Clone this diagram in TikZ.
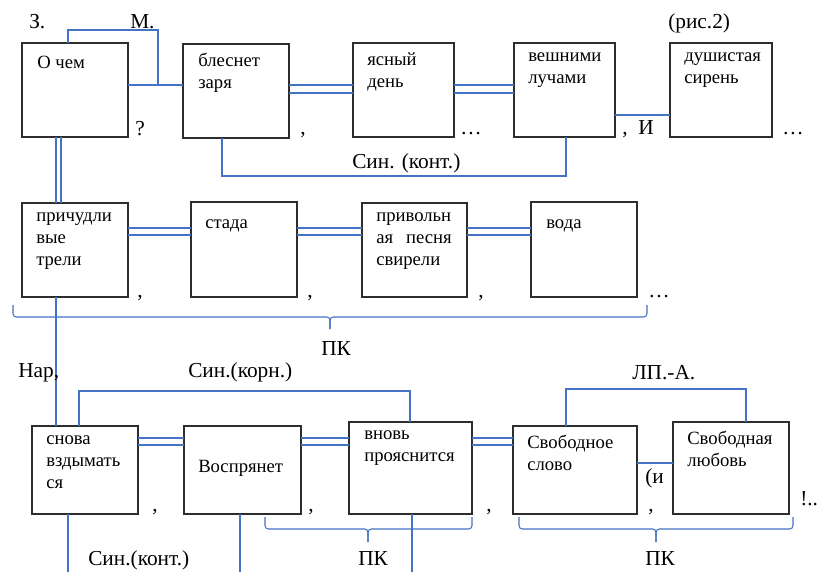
\documentclass[tikz,border=0pt]{standalone}
\usepackage{fontspec}
\setmainfont{Liberation Serif}
\usetikzlibrary{calc}
\definecolor{cblue}{RGB}{68,114,196}
\definecolor{cbox}{RGB}{45,45,45}
\tikzset{
  box/.style={draw=cbox, line width=0.9pt, anchor=north west, inner sep=0pt, outer sep=0pt},
  conn/.style={draw=cblue, line width=0.8pt},
  txt/.style={inner sep=0pt, anchor=north west, align=left,
    font=\fontsize{14}{16.5}\selectfont, execute at begin node=\strut},
  lab/.style={inner sep=0pt, anchor=base west, font=\fontsize{16}{18}\selectfont},
  brace/.style={draw=cblue, line width=0.8pt, rounded corners=2.5pt},
}
\newcommand\mkbox[5]{\node[box, minimum width={(#4-#2)*0.75pt}, minimum height={(#5-#3)*0.75pt}] (#1) at (#2,#3) {};}
\begin{document}
\begin{tikzpicture}[x=0.75pt,y=-0.75pt]
\useasboundingbox (0,0) rectangle (826,572);
% ---------- boxes ----------
\mkbox{ochem}{22}{43}{128}{137}
\mkbox{blesnet}{183}{44}{289}{138}
\mkbox{yasny}{353}{43}{454}{137}
\mkbox{veshn}{514}{43}{615}{137}
\mkbox{dush}{670}{43}{772}{137}
\mkbox{prich}{22}{203}{128}{297}
\mkbox{stada}{191}{202}{297}{297}
\mkbox{privol}{362}{203}{467}{297}
\mkbox{voda}{531}{202}{637}{297}
\mkbox{snova}{32}{426}{138}{514}
\mkbox{vospr}{184}{426}{301}{514}
\mkbox{vnov}{349}{422}{472}{514}
\mkbox{svoe}{513}{426}{637}{514}
\mkbox{svoa}{673}{422}{789}{514}
% ---------- box texts ----------
\node[txt] (ochem-t) at (37,52.6) {О чем};
\node[txt] (blesnet-t) at (198,52.6) {блеснет\\заря};
\node[txt] (yasny-t) at (367,52.6) {ясный\\день};
\node[txt] (veshn-t) at (528,52.6) {вешними\\лучами};
\node[txt] (dush-t) at (684,52.6) {душистая\\сирень};
\node[txt] (prich-t) at (36,212.6) {причудли\\вые\\трели};
\node[txt] (stada-t) at (205,212.6) {стада};
\node[txt] (privol-t) at (376,212.6) {привольн\\ая\hspace{0.7em}песня\\свирели};
\node[txt] (voda-t) at (546,212.6) {вода};
\node[txt] (snova-t) at (46,435.6) {снова\\вздымать\\ся};
\node[txt] (vospr-t) at (198,456.6) {Воспрянет};
\node[txt] (vnov-t) at (364,430.6) {вновь\\прояснится};
\node[txt] (svoe-t) at (527,434.6) {Свободное\\слово};
\node[txt] (svoa-t) at (687,430.6) {Свободная\\любовь};
% ---------- helper levels ----------
\coordinate (h1) at (0,85);
\coordinate (h2) at (0,93);
\coordinate (h3) at (0,115);
\coordinate (h4) at (0,228);
\coordinate (h5) at (0,235);
\coordinate (h6) at (0,438);
\coordinate (h7) at (0,445);
\coordinate (h8) at (0,463);
\coordinate (m1) at (158,85);
% ---------- row 1 connectors ----------
\draw[conn] (ochem.east |- h1) -- (blesnet.west |- h1);
\draw[conn] ($(ochem.north west)+(46,0)$) -- ++(0,-13) -| (m1);
\draw[conn] (blesnet.east |- h1) -- (yasny.west |- h1);
\draw[conn] (blesnet.east |- h2) -- (yasny.west |- h2);
\draw[conn] (yasny.east |- h1) -- (veshn.west |- h1);
\draw[conn] (yasny.east |- h2) -- (veshn.west |- h2);
\draw[conn] (veshn.east |- h3) -- (dush.west |- h3);
\draw[conn] ($(blesnet.south west)+(39,0)$) -- ++(0,38) -| ($(veshn.south west)+(52,0)$);
\draw[conn] ($(ochem.south west)+(34,0)$) -- ($(prich.north west)+(34,0)$);
\draw[conn] ($(ochem.south west)+(39,0)$) -- ($(prich.north west)+(39,0)$);
% ---------- row 2 connectors ----------
\draw[conn] (prich.east |- h4) -- (stada.west |- h4);
\draw[conn] (prich.east |- h5) -- (stada.west |- h5);
\draw[conn] (stada.east |- h4) -- (privol.west |- h4);
\draw[conn] (stada.east |- h5) -- (privol.west |- h5);
\draw[conn] (privol.east |- h4) -- (voda.west |- h4);
\draw[conn] (privol.east |- h5) -- (voda.west |- h5);
\coordinate (b1l) at (13,305);
\coordinate (b1m) at (330,329);
\coordinate (b1r) at (647,305);
\draw[brace] (b1l) |- ($(b1m)+(0,-12)$) -- (b1m);
\draw[brace] (b1m) -- ($(b1m)+(0,-12)$) -| (b1r);
\draw[conn] ($(prich.south west)+(34,0)$) -- ($(snova.north west)+(24,0)$);
% ---------- row 3 connectors ----------
\draw[conn] ($(snova.north west)+(47,0)$) -- ++(0,-35) -| ($(vnov.north west)+(61,0)$);
\draw[conn] (snova.east |- h6) -- (vospr.west |- h6);
\draw[conn] (snova.east |- h7) -- (vospr.west |- h7);
\draw[conn] (vospr.east |- h6) -- (vnov.west |- h6);
\draw[conn] (vospr.east |- h7) -- (vnov.west |- h7);
\draw[conn] (vnov.east |- h6) -- (svoe.west |- h6);
\draw[conn] (vnov.east |- h7) -- (svoe.west |- h7);
\draw[conn] (svoe.east |- h8) -- (svoa.west |- h8);
\draw[conn] ($(svoe.north west)+(53,0)$) -- ++(0,-37) -| ($(svoa.north west)+(73,0)$);
\draw[conn] ($(snova.south west)+(36,0)$) -- ++(0,58);
\draw[conn] ($(vospr.south west)+(56,0)$) -- ++(0,58);
\draw[conn] ($(vnov.south west)+(63,0)$) -- ++(0,58);
\coordinate (b2l) at (265,517);
\coordinate (b2m) at (368,542);
\coordinate (b2r) at (472,517);
\draw[brace] (b2l) |- ($(b2m)+(0,-13)$) -- (b2m);
\draw[brace] (b2m) -- ($(b2m)+(0,-13)$) -| (b2r);
\coordinate (b3l) at (519,517);
\coordinate (b3m) at (656,542);
\coordinate (b3r) at (793,517);
\draw[brace] (b3l) |- ($(b3m)+(0,-13)$) -- (b3m);
\draw[brace] (b3m) -- ($(b3m)+(0,-13)$) -| (b3r);
% ---------- labels ----------
\node[lab] (lz) at (29,28) {З.};
\node[lab] (lm) at (130,28) {М.};
\node[lab] (lris) at (668,28) {(рис.2)};
\node[lab] (lq) at (135,135) {?};
\node[lab] (lc1) at (300,134) {,};
\node[lab] (ld1) at (460,134) {…};
\node[lab] (lci) at (622,134) {,\hspace{0.5em}И};
\node[lab] (ld2) at (782,134) {…};
\node[lab] (lsin1) at (352,168) {Син. (конт.)};
\node[lab] (lc2) at (137,297) {,};
\node[lab] (lc3) at (307,297) {,};
\node[lab] (lc4) at (478,297) {,};
\node[lab] (ld3) at (648,297) {…};
\node[lab] (lpk1) at (321,355) {ПК};
\node[lab] (lnar) at (18,377) {Нар,};
\node[lab] (lsin2) at (188,377) {Син.(корн.)};
\node[lab] (llpa) at (632,379) {ЛП.-А.};
\node[lab] (lc5) at (152,511) {,};
\node[lab] (lc6) at (308,511) {,};
\node[lab] (lc7) at (486,511) {,};
\node[lab] (li) at (645,483) {(и};
\node[lab] (lc8) at (648,511) {,};
\node[lab] (lex) at (800,505) {!..};
\node[lab] (lsin3) at (88,565) {Син.(конт.)};
\node[lab] (lpk2) at (358,565) {ПК};
\node[lab] (lpk3) at (645,565) {ПК};
\end{tikzpicture}
\end{document}
